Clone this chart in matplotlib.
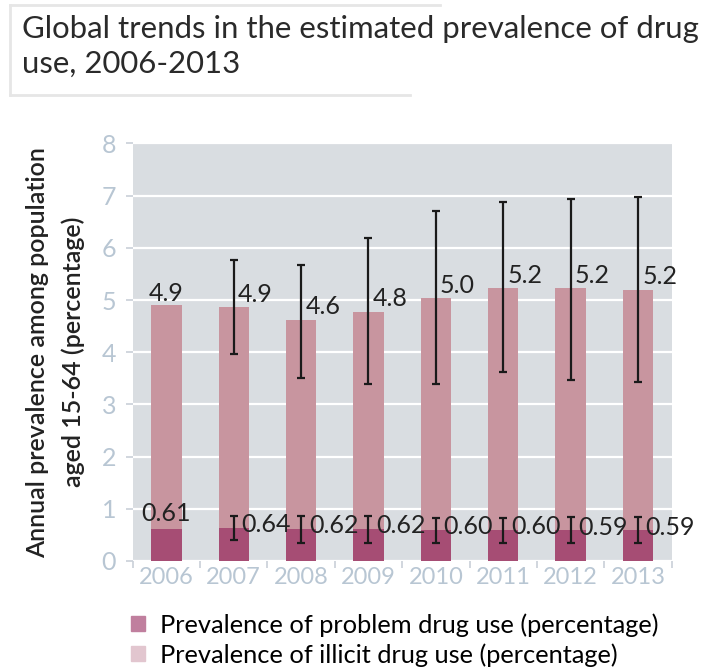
import numpy as np
import matplotlib
matplotlib.use('Agg')
import matplotlib.pyplot as plt
from matplotlib.patches import Patch
from matplotlib.lines import Line2D

plt.rcParams['font.family'] = ['Lato', 'DejaVu Sans']

# data
years = ['2006', '2007', '2008', '2009', '2010', '2011', '2012', '2013']
illicit = [4.90, 4.86, 4.62, 4.78, 5.04, 5.23, 5.23, 5.20]
illicit_labels = ['4.9', '4.9', '4.6', '4.8', '5.0', '5.2', '5.2', '5.2']
illicit_low = [None, 3.96, 3.51, 3.39, 3.39, 3.63, 3.47, 3.43]
illicit_high = [None, 5.76, 5.68, 6.18, 6.71, 6.87, 6.94, 6.98]
problem = [0.61, 0.64, 0.62, 0.62, 0.60, 0.60, 0.59, 0.59]
problem_labels = ['0.61', '0.64', '0.62', '0.62', '0.60', '0.60', '0.59', '0.59']
problem_low = [None, 0.41, 0.34, 0.34, 0.34, 0.34, 0.34, 0.34]
problem_high = [None, 0.86, 0.86, 0.86, 0.83, 0.83, 0.85, 0.85]

c_illicit = '#c8959f'
c_problem = '#a64d74'
c_leg_illicit = '#e2c6cf'
c_leg_problem = '#c07f9e'
tick_col = '#b8c6d3'
lab_col = '#222222'

fig = plt.figure(figsize=(7.11, 6.71), dpi=100)
ax = fig.add_axes([0.1866, 0.164, 0.7581, 0.6222])
ax.set_facecolor('#d9dde1')

x = np.arange(len(years))
w = 0.45
ax.bar(x, illicit, width=w, color=c_illicit, zorder=2)
ax.bar(x, problem, width=w, color=c_problem, zorder=3)

# error bars only where a range exists
for i in range(len(years)):
    if illicit_low[i] is not None:
        ax.errorbar(x[i], illicit[i],
                    yerr=[[illicit[i] - illicit_low[i]], [illicit_high[i] - illicit[i]]],
                    fmt='none', ecolor='#1a1a1a', elinewidth=1.6, capsize=3, capthick=1.6, zorder=4)
    if problem_low[i] is not None:
        ax.errorbar(x[i], problem[i],
                    yerr=[[problem[i] - problem_low[i]], [problem_high[i] - problem[i]]],
                    fmt='none', ecolor='#1a1a1a', elinewidth=1.6, capsize=3, capthick=1.6, zorder=4)

# value labels
for i in range(len(years)):
    if illicit_low[i] is None:
        ax.annotate(illicit_labels[i], (x[i], illicit[i]), xytext=(0, 0), textcoords='offset points',
                    ha='center', va='bottom', fontsize=18, color=lab_col, zorder=5)
        ax.annotate(problem_labels[i], (x[i], problem[i]), xytext=(0, 3), textcoords='offset points',
                    ha='center', va='bottom', fontsize=18, color=lab_col, zorder=5)
    else:
        ax.annotate(illicit_labels[i], (x[i], illicit[i]), xytext=(3, 1), textcoords='offset points',
                    ha='left', va='bottom', fontsize=18, color=lab_col, zorder=5)
        ax.annotate(problem_labels[i], (x[i], problem[i]), xytext=(5.5, 2), textcoords='offset points',
                    ha='left', va='center', fontsize=18, color=lab_col, zorder=5)

ax.set_xlim(-0.5, len(years) - 0.5)
ax.set_ylim(0, 8)
ax.set_yticks(range(0, 9))
ax.yaxis.grid(True, color='white', linewidth=1.6, zorder=1)
ax.set_axisbelow(True)
for s in ax.spines.values():
    s.set_visible(False)

ax.set_xticks(x)
ax.set_xticklabels(years, fontsize=17, color=tick_col)
ax.tick_params(axis='x', length=0, pad=4)
ax.set_xticks(np.arange(-0.5, len(years)), minor=True)
ax.tick_params(axis='x', which='minor', length=5, color='#c9d0d8', width=1.2)
ax.tick_params(axis='y', length=5, color='#c9d0d8', width=1.2, labelsize=18, labelcolor=tick_col, pad=7)

ax.set_ylabel('Annual prevalence among population\naged 15-64 (percentage)', fontsize=18,
              fontweight='semibold', color=lab_col, labelpad=12, linespacing=1.6)

# title block
fig.text(22 / 711, 1 - 15 / 671, 'Global trends in the estimated prevalence of drug\nuse, 2006-2013',
         fontsize=22.4, color='#2a2a2a', ha='left', va='top', linespacing=1.3)
fig.add_artist(Line2D([10 / 711, 440 / 711], [1 - 5 / 671, 1 - 5 / 671], color='#e6e6e6', lw=2))
fig.add_artist(Line2D([10 / 711, 10 / 711], [1 - 5 / 671, 1 - 95 / 671], color='#e6e6e6', lw=2))
fig.add_artist(Line2D([10 / 711, 410 / 711], [1 - 95 / 671, 1 - 95 / 671], color='#e6e6e6', lw=2))

handles = [Patch(color=c_leg_problem, label='Prevalence of problem drug use (percentage)'),
           Patch(color=c_leg_illicit, label='Prevalence of illicit drug use (percentage)')]
fig.legend(handles=handles, loc='upper left', bbox_to_anchor=(131 / 711, 1 - 613 / 671), frameon=False,
           fontsize=18.3, handlelength=0.55, handleheight=0.55, handletextpad=0.6, labelspacing=0.25,
           borderaxespad=0, borderpad=0)

fig.savefig('out.png', dpi=100)
